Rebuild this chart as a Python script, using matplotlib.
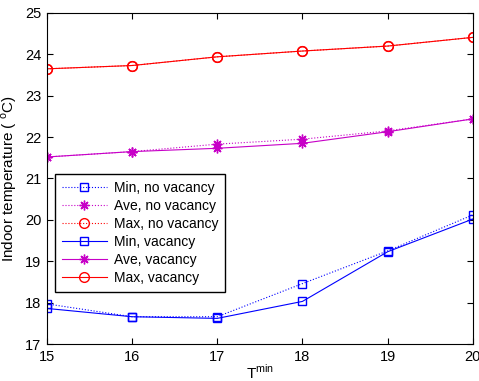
import matplotlib
matplotlib.use("Agg")
import matplotlib.pyplot as plt

plt.rcParams['font.family'] = ['Liberation Sans', 'DejaVu Sans']
plt.rcParams['mathtext.fontset'] = 'custom'
plt.rcParams['mathtext.rm'] = 'Liberation Sans'

# Data
t_min = [15, 16, 17, 18, 19, 20]
min_novac = [17.97, 17.66, 17.66, 18.46, 19.25, 20.12]
ave_novac = [21.52, 21.65, 21.83, 21.95, 22.15, 22.44]
max_novac = [23.65, 23.73, 23.94, 24.08, 24.20, 24.41]
min_vac = [17.86, 17.66, 17.62, 18.03, 19.23, 20.02]
ave_vac = [21.52, 21.65, 21.73, 21.85, 22.13, 22.44]
max_vac = [23.65, 23.73, 23.94, 24.08, 24.20, 24.41]

blue = (0, 0, 1)
mag = (0.78, 0, 0.78)
red = (1, 0, 0)
star = (8, 2, 0)  # matlab style asterisk

fig = plt.figure(figsize=(4.79, 3.81), dpi=100)
ax = fig.add_axes([0.098, 0.097, 0.889, 0.869])

ax.plot(t_min, min_novac, ':', color=blue, marker='s', mfc='none', ms=6, lw=0.8, label='Min, no vacancy')
ax.plot(t_min, ave_novac, ':', color=mag, marker=star, ms=7, mew=1, lw=0.8, label='Ave, no vacancy')
ax.plot(t_min, max_novac, ':', color=red, marker='o', mfc='none', ms=7, lw=0.8, label='Max, no vacancy')
ax.plot(t_min, min_vac, '-', color=blue, marker='s', mfc='none', ms=6, lw=0.8, label='Min, vacancy')
ax.plot(t_min, ave_vac, '-', color=mag, marker=star, ms=7, mew=1, lw=0.8, label='Ave, vacancy')
ax.plot(t_min, max_vac, '-', color=red, marker='o', mfc='none', ms=7, lw=0.8, label='Max, vacancy')

ax.set_xlim(15, 20)
ax.set_ylim(17, 25)
ax.set_xticks(t_min)
ax.set_yticks(range(17, 26))
ax.tick_params(direction='in', top=True, right=True, labelsize=10.5, length=4, pad=4)
ax.set_xlabel('T$^{\\rm min}$', fontsize=11, labelpad=0)
ax.set_ylabel('Indoor temperature ( $^{\\rm o}$C)', fontsize=11, labelpad=4)

leg = ax.legend(loc='upper left', bbox_to_anchor=(0.0, 0.538), fontsize=10,
                fancybox=False, edgecolor='black', framealpha=1,
                handlelength=3.3, handletextpad=0.5, labelspacing=0.3,
                borderpad=0.45, borderaxespad=0.6)
leg.get_frame().set_linewidth(1.0)

plt.savefig('out.png', dpi=100)
